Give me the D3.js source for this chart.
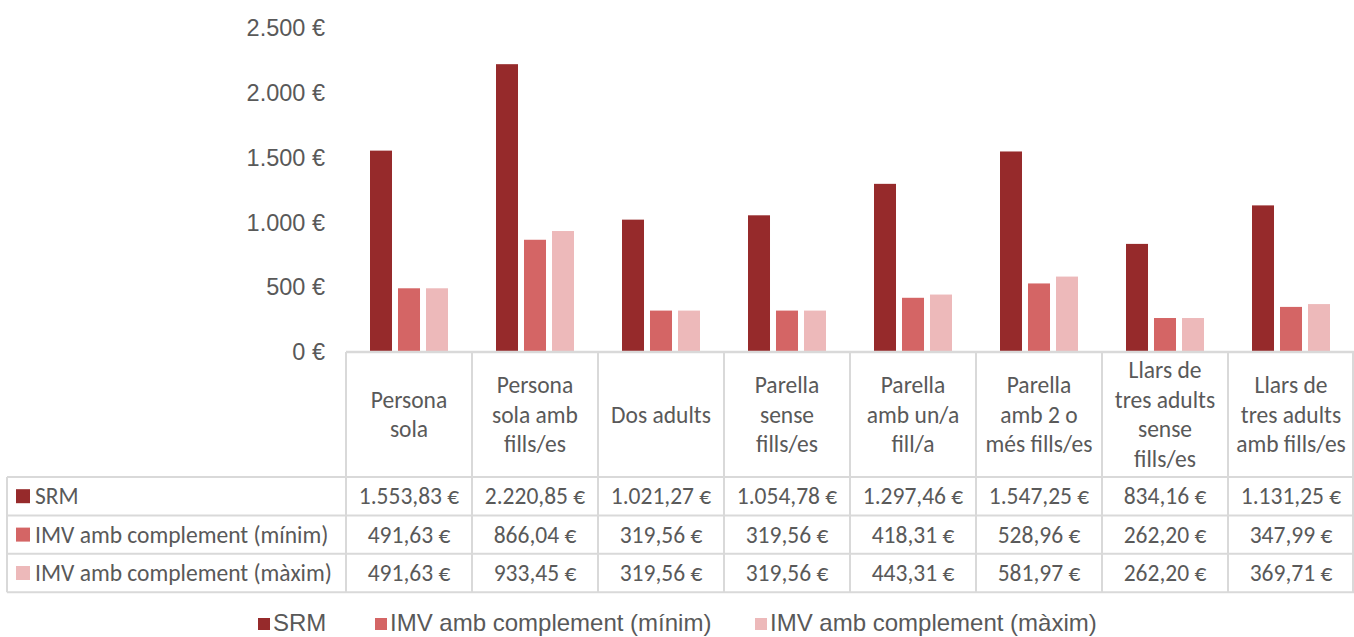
<!DOCTYPE html>
<html>
<head>
<meta charset="utf-8">
<script src="https://cdn.jsdelivr.net/npm/d3@7"></script>
<style>
  body { margin: 0; background: #fff; }
  svg { display: block; }
</style>
</head>
<body>
<div class="responsive-svg-container"></div>
<script>
const categories = ["Persona sola", "Persona sola amb fills/es", "Dos adults", "Parella sense fills/es",
    "Parella amb un/a fill/a", "Parella amb 2 o més fills/es", "Llars de tres adults sense fills/es",
    "Llars de tres adults amb fills/es"];
// line breaks as they appear in the table header
const categoryLines = [
    ["Persona", "sola"],
    ["Persona", "sola amb", "fills/es"],
    ["Dos adults"],
    ["Parella", "sense", "fills/es"],
    ["Parella", "amb un/a", "fill/a"],
    ["Parella", "amb 2 o", "més fills/es"],
    ["Llars de", "tres adults", "sense", "fills/es"],
    ["Llars de", "tres adults", "amb fills/es"]
];
const seriesNames = ["SRM", "IMV amb complement (mínim)", "IMV amb complement (màxim)"];
const srm = [1553.83, 2220.85, 1021.27, 1054.78, 1297.46, 1547.25, 834.16, 1131.25];
const imvMin = [491.63, 866.04, 319.56, 319.56, 418.31, 528.96, 262.20, 347.99];
const imvMax = [491.63, 933.45, 319.56, 319.56, 443.31, 581.97, 262.20, 369.71];
const yTicks = [0, 500, 1000, 1500, 2000, 2500];
const colors = ["#962a2b", "#d46565", "#edb9ba"];

const values = [srm, imvMin, imvMax];

const W = 1354, H = 637;
const plotLeft = 346, plotRight = 1354, baseY = 352, topY = 28;
const tableLeft = 7;
const headerBottom = 477;
const rowH = 38.4;
const gridColor = "#d9d9d9";
const textColor = "#595959";
const tableFont = "Carlito, Calibri, Lato, sans-serif";
const tableSize = 23.5;

const loc = d3.formatLocale({decimal: ",", thousands: ".", grouping: [3], currency: ["", " €"]});
const fmtTick = loc.format("$,.0f");
const fmtVal = loc.format("$,.2f");

const svg = d3.select('.responsive-svg-container')
    .append('svg')
        .attr("width", W)
        .attr("height", H)
        .attr("viewBox", `0 0 ${W} ${H}`);

const x0 = d3.scaleBand()
    .domain(categories)
    .range([plotLeft, plotRight])
    .padding(0);

const x1 = d3.scaleBand()
    .domain(seriesNames)
    .range([24, x0.bandwidth() - 24])
    .paddingInner(0.214);

const y = d3.scaleLinear()
    .domain([0, 2500])
    .range([baseY, topY]);

// y axis labels
svg.append("g")
    .selectAll("text")
    .data(yTicks)
    .join("text")
        .attr("x", 325)
        .attr("y", d => y(d))
        .attr("dy", "0.35em")
        .attr("text-anchor", "end")
        .attr("font-family", "'Liberation Sans', Arial, sans-serif")
        .attr("font-size", 23.5)
        .attr("fill", textColor)
        .text(d => fmtTick(d));

// bars
const groups = svg.append("g")
    .selectAll("g")
    .data(categories)
    .join("g")
        .attr("transform", d => `translate(${x0(d)},0)`);

groups.selectAll("rect")
    .data((c, i) => seriesNames.map((s, j) => ({s: s, v: values[j][i], j: j})))
    .join("rect")
        .attr("x", d => x1(d.s))
        .attr("y", d => y(d.v))
        .attr("width", x1.bandwidth())
        .attr("height", d => baseY - y(d.v))
        .attr("fill", d => colors[d.j]);

// table grid
const grid = svg.append("g")
    .attr("stroke", gridColor)
    .attr("stroke-width", 2)
    .attr("fill", "none");

const rowTops = [headerBottom, headerBottom + rowH, headerBottom + 2 * rowH, headerBottom + 3 * rowH];

grid.append("line")
    .attr("x1", plotLeft).attr("x2", plotRight)
    .attr("y1", baseY).attr("y2", baseY)
    .attr("stroke-width", 2.5);

rowTops.forEach(ry => {
    grid.append("line")
        .attr("x1", tableLeft).attr("x2", plotRight)
        .attr("y1", ry).attr("y2", ry);
});

grid.append("line")
    .attr("x1", tableLeft).attr("x2", tableLeft)
    .attr("y1", headerBottom).attr("y2", rowTops[3]);

grid.selectAll(".vline")
    .data(categories.concat(["end"]))
    .join("line")
        .attr("class", "vline")
        .attr("x1", d => d === "end" ? plotRight - 1 : x0(d))
        .attr("x2", d => d === "end" ? plotRight - 1 : x0(d))
        .attr("y1", baseY)
        .attr("y2", rowTops[3]);

// header labels
const headerMid = (baseY + headerBottom) / 2;
const lineH = 29.5;
svg.append("g")
    .selectAll("text")
    .data(categories)
    .join("text")
        .attr("x", d => x0(d) + x0.bandwidth() / 2)
        .attr("text-anchor", "middle")
        .attr("font-family", tableFont)
        .attr("font-size", tableSize)
        .attr("fill", textColor)
        .each(function (d, i) {
            const lines = categoryLines[i];
            const start = headerMid - (lines.length - 1) * lineH / 2;
            d3.select(this).selectAll("tspan")
                .data(lines)
                .join("tspan")
                    .attr("x", x0(d) + x0.bandwidth() / 2)
                    .attr("y", (l, k) => start + k * lineH)
                    .attr("dy", "0.35em")
                    .text(l => l);
        });

// table rows
seriesNames.forEach((s, j) => {
    const cy = rowTops[j] + rowH / 2;
    svg.append("rect")
        .attr("x", 16)
        .attr("y", cy - 7)
        .attr("width", 14)
        .attr("height", 14)
        .attr("fill", colors[j]);
    svg.append("text")
        .attr("x", 35)
        .attr("y", cy)
        .attr("dy", "0.35em")
        .attr("font-family", tableFont)
        .attr("font-size", tableSize)
        .attr("fill", textColor)
        .text(s);
    svg.append("g")
        .selectAll("text")
        .data(categories)
        .join("text")
            .attr("x", d => x0(d) + x0.bandwidth() / 2)
            .attr("y", cy)
            .attr("dy", "0.35em")
            .attr("text-anchor", "middle")
            .attr("font-family", tableFont)
            .attr("font-size", tableSize)
            .attr("fill", textColor)
            .text((d, i) => fmtVal(values[j][i]));
});

// legend
const legendX = [258, 375, 755];
const legend = svg.append("g")
    .selectAll("g")
    .data(seriesNames)
    .join("g")
        .attr("transform", (d, i) => `translate(${legendX[i]},623)`);

legend.append("rect")
    .attr("x", 0).attr("y", -5)
    .attr("width", 12).attr("height", 12)
    .attr("fill", (d, i) => colors[i]);

legend.append("text")
    .attr("x", 15)
    .attr("dy", "0.35em")
    .attr("font-family", "'Liberation Sans Narrow', 'Arial Narrow', sans-serif")
    .attr("font-size", 24)
    .attr("fill", textColor)
    .text(d => d);
</script>
</body>
</html>
